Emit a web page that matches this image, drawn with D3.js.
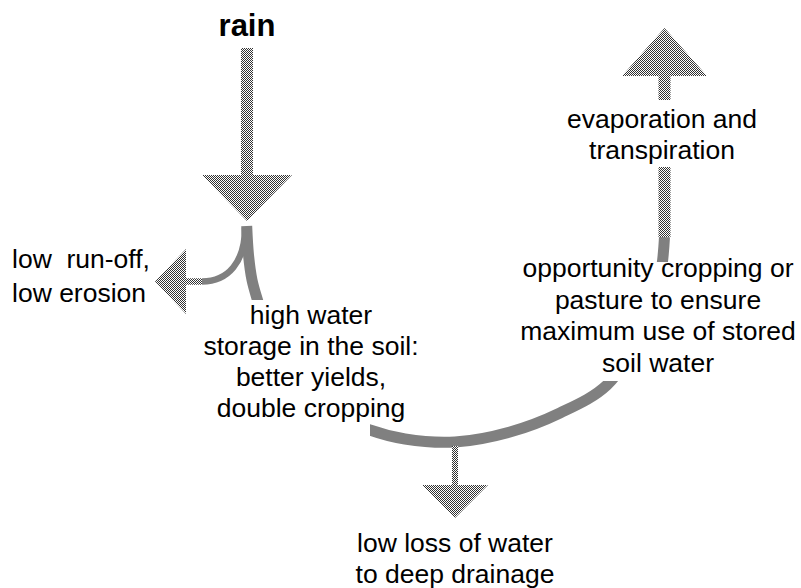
<!DOCTYPE html>
<html>
<head>
<meta charset="utf-8">
<script src="https://cdn.jsdelivr.net/npm/d3@7"></script>
<style>
  body { margin: 0; background: #fff; }
  svg { display: block; }
  text { font-family: "Liberation Sans", Arial, sans-serif; fill: #000; }
</style>
</head>
<body>
<main></main>
<script>

//Textos del diagrama
const labelRain = ['rain'];
const labelEvap = ['evaporation and', 'transpiration'];
const labelRunoff = ['low  run-off,', 'low erosion'];
const labelStorage = ['high water', 'storage in the soil:', 'better yields,', 'double cropping'];
const labelCropping = ['opportunity cropping or', 'pasture to ensure', 'maximum use of stored', 'soil water'];
const labelDrainage = ['low loss of water', 'to deep drainage'];

var w = 801, h = 588;
var fontSize = 26.5, lineGap = 31.5;

var svg = d3.select('main')
    .append('svg')
    .attr('width', w)
    .attr('height', h);

//Trama de cuadros para las flechas
var pat = svg.append('defs')
    .append('pattern')
    .attr('id', 'checker')
    .attr('width', 2)
    .attr('height', 2)
    .attr('patternUnits', 'userSpaceOnUse');
pat.append('rect').attr('width', 2).attr('height', 2).attr('fill', '#fff');
pat.append('rect').attr('width', 1).attr('height', 1).attr('fill', '#333');
pat.append('rect').attr('x', 1).attr('y', 1).attr('width', 1).attr('height', 1).attr('fill', '#333');

//Curva principal (agua en el suelo)
const curvePts = [[246.7, 226], [248.5, 255], [252, 280], [257.5, 300], [278, 362], [322, 408],
    [370, 430], [405, 439], [455, 442], [510, 432], [560, 413], [607, 385], [640, 335],
    [655, 298], [662, 265], [664.5, 237]];

svg.append('path')
    .attr('d', d3.line().curve(d3.curveCatmullRom.alpha(0.5))(curvePts))
    .attr('fill', 'none')
    .attr('stroke', '#808080')
    .attr('stroke-width', 11);

//Rama de escorrentia
var rama = d3.path();
rama.moveTo(245, 228);
rama.bezierCurveTo(245, 262, 228, 281.5, 202, 281.5);
svg.append('path')
    .attr('d', rama.toString())
    .attr('fill', 'none')
    .attr('stroke', '#808080')
    .attr('stroke-width', 6.5);

//Flechas rectas: inicio, punta, ancho del tallo, ancho y largo de la cabeza
function arrow(x1, y1, x2, y2, sw, hw, hl) {
    var dx = x2 - x1, dy = y2 - y1, len = Math.hypot(dx, dy);
    var ux = dx / len, uy = dy / len, px = -uy, py = ux;
    var bx = x2 - ux * hl, by = y2 - uy * hl;
    var pts = [
        [x1 + px * sw / 2, y1 + py * sw / 2],
        [bx + px * sw / 2, by + py * sw / 2],
        [bx + px * hw / 2, by + py * hw / 2],
        [x2, y2],
        [bx - px * hw / 2, by - py * hw / 2],
        [bx - px * sw / 2, by - py * sw / 2],
        [x1 - px * sw / 2, y1 - py * sw / 2]
    ];
    svg.append('path')
        .attr('d', d3.line()(pts) + 'Z')
        .attr('fill', 'url(#checker)');
}

arrow(247, 48, 247, 221, 12, 90, 46);        //lluvia
arrow(664.5, 237, 664.5, 28, 12, 85, 48);    //evaporacion
arrow(202, 281.5, 155, 281.5, 6.5, 65, 31);  //escorrentia
arrow(455, 446, 455, 518, 6, 66, 33);        //drenaje

//Cajas blancas detras de los textos
const boxes = [[560, 100, 210, 67], [200, 300, 170, 140], [510, 262, 291, 119]];
svg.selectAll('rect.box')
    .data(boxes)
    .enter()
    .append('rect')
    .attr('class', 'box')
    .attr('x', (d) => d[0])
    .attr('y', (d) => d[1])
    .attr('width', (d) => d[2])
    .attr('height', (d) => d[3])
    .attr('fill', '#fff');

//Bloques de texto
function label(lines, x, y, anchor, size, weight, gap) {
    svg.append('g')
        .selectAll('text')
        .data(lines)
        .enter()
        .append('text')
        .attr('x', x)
        .attr('y', (d, i) => y + i * gap)
        .attr('text-anchor', anchor)
        .attr('font-size', size)
        .attr('font-weight', weight)
        .style('white-space', 'pre')
        .text((d) => d);
}

label(labelRain, 247, 36, 'middle', 31, 'bold', 0);
label(labelEvap, 662, 128, 'middle', fontSize, 'normal', 30.5);
label(labelRunoff, 12, 267.5, 'start', fontSize, 'normal', 34);
label(labelStorage, 311, 324, 'middle', fontSize, 'normal', 31);
label(labelCropping, 658, 277, 'middle', fontSize, 'normal', lineGap);
label(labelDrainage, 455, 552, 'middle', fontSize, 'normal', 30.5);

</script>
</body>
</html>
